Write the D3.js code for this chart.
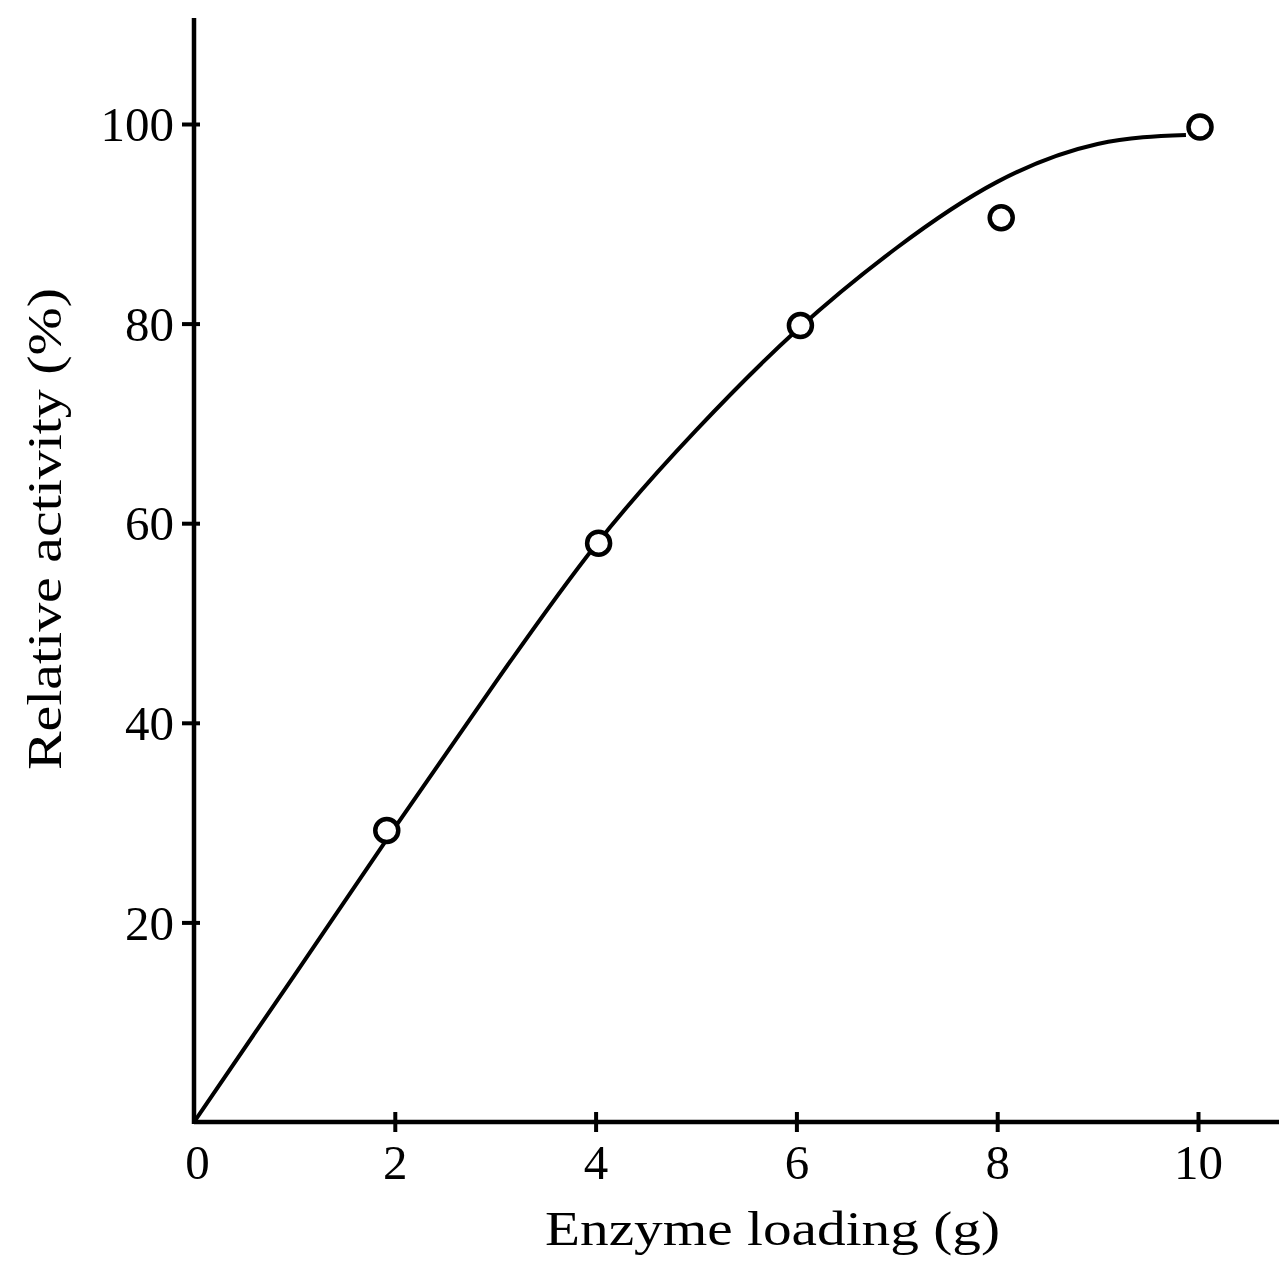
<!DOCTYPE html>
<html>
<head>
<meta charset="utf-8">
<script src="https://cdn.jsdelivr.net/npm/d3@7"></script>
<style>
  body { margin: 0; background: #fff; }
  text { font-family: "Liberation Serif", "Times New Roman", serif; fill: #000; }
</style>
</head>
<body>
<svg id="chart" width="1279" height="1261"></svg>
<script>
// measured points
var loading = [1.92, 4.03, 6.04, 8.04, 10.02];
var activity = [29.2, 58.0, 79.8, 90.6, 99.7];

// fitted curve
var curveX = [0, 1, 2, 3, 4, 5, 6, 7, 8, 9, 9.88];
var curveY = [0, 14.7, 29.5, 44.0, 57.8, 69.3, 79.3, 87.6, 94.2, 98.0, 98.9];

var xTicks = [0, 2, 4, 6, 8, 10];
var yTicks = [20, 40, 60, 80, 100];

var svg = d3.select("#chart");

var xScale = d3.scaleLinear()
                .domain([0, 10])
                .range([194, 1198]);
var yScale = d3.scaleLinear()
                .domain([0, 100])
                .range([1122, 124]);

//axes lines
svg.append("line")
    .attr("x1", 194).attr("y1", 1122)
    .attr("x2", 1279).attr("y2", 1122)
    .attr("stroke", "#000").attr("stroke-width", 4.5);
svg.append("line")
    .attr("x1", 194).attr("y1", 1124)
    .attr("x2", 194).attr("y2", 18)
    .attr("stroke", "#000").attr("stroke-width", 4.5);

var xAxis = d3.axisBottom()
              .scale(xScale)
              .tickValues(xTicks)
              .tickSize(10)
              .tickPadding(0)
              .tickFormat(d3.format("d"));
var yAxis = d3.axisLeft()
              .scale(yScale)
              .tickValues(yTicks)
              .tickSize(12)
              .tickPadding(0)
              .tickFormat(d3.format("d"));

var xx = svg.append("g")
            .attr("transform", "translate(0,1122)")
            .call(xAxis);
var yx = svg.append("g")
            .attr("transform", "translate(194,0)")
            .call(yAxis);

[xx, yx].forEach(function(g){
  g.select(".domain").remove();
  g.selectAll("text")
    .attr("font-family", "Liberation Serif, serif")
    .attr("font-size", 49)
    .attr("fill", "#000");
  g.selectAll("line").attr("stroke", "#000").attr("stroke-width", 4);
});

// x ticks cross the axis, none at the corner
xx.selectAll(".tick line")
  .attr("y1", -10)
  .attr("y2", 10)
  .attr("opacity", function(d){ return d == 0 ? 0 : 1; });
xx.selectAll(".tick text")
  .attr("y", 57)
  .attr("dy", 0)
  .attr("dx", function(d){ return d == 0 ? 3 : 0; });

yx.selectAll(".tick line")
  .attr("x1", -12)
  .attr("x2", 6);
yx.selectAll(".tick text")
  .attr("x", -20)
  .attr("dy", "0.34em");

//fitted curve
var line = d3.line()
              .x(function(d){ return xScale(d[0]); })
              .y(function(d){ return yScale(d[1]); })
              .curve(d3.curveNatural);
svg.append("path")
    .datum(curveX.map(function(x, i){ return [x, curveY[i]]; }))
    .attr("d", line)
    .attr("fill", "none")
    .attr("stroke", "#000")
    .attr("stroke-width", 4);

//markers
svg.append("g")
    .selectAll("circle")
    .data(loading)
    .enter()
    .append("circle")
    .attr("cx", function(d){ return xScale(d); })
    .attr("cy", function(d, i){ return yScale(activity[i]); })
    .attr("r", 11.5)
    .attr("fill", "#fff")
    .attr("stroke", "#000")
    .attr("stroke-width", 4.5);

//axis titles
svg.append("text")
    .attr("x", 545)
    .attr("y", 1245)
    .attr("font-size", 48)
    .attr("textLength", 455)
    .attr("lengthAdjust", "spacingAndGlyphs")
    .text("Enzyme loading (g)");
svg.append("text")
    .attr("transform", "translate(61,770) rotate(-90)")
    .attr("font-size", 48)
    .attr("textLength", 482)
    .attr("lengthAdjust", "spacingAndGlyphs")
    .text("Relative activity (%)");
</script>
</body>
</html>
